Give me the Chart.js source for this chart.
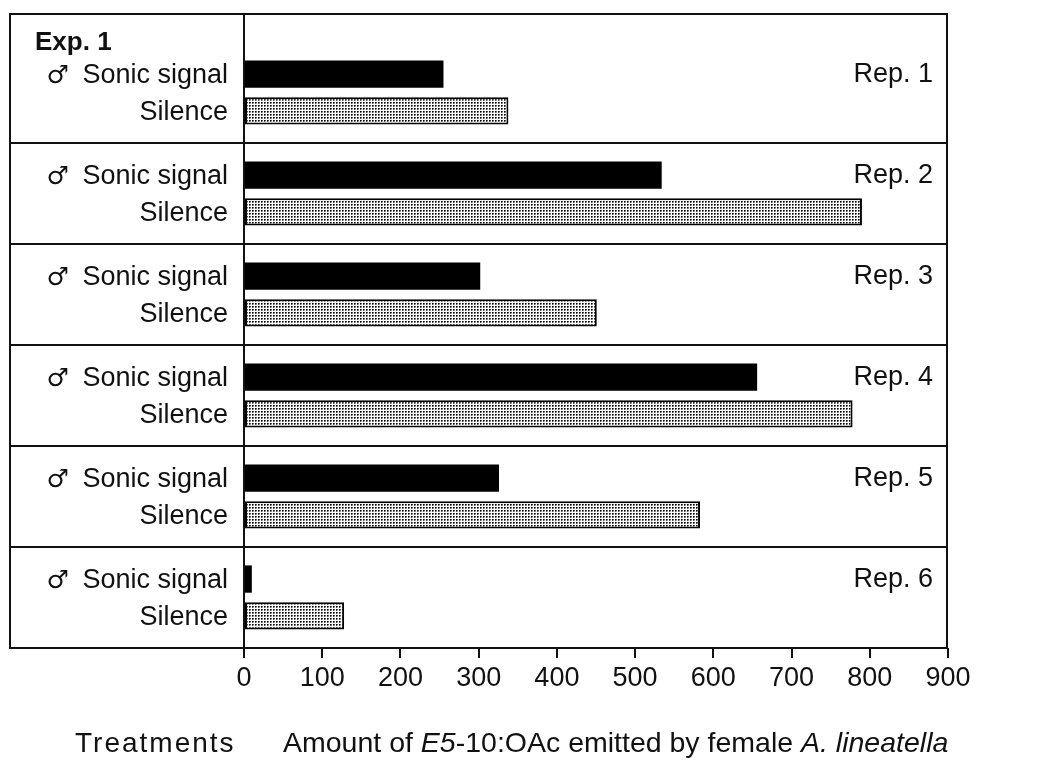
<!DOCTYPE html>
<html>
<head>
<meta charset="utf-8">
<script src="https://cdn.jsdelivr.net/npm/chart.js@4/dist/chart.umd.min.js"></script>
<style>
    body { margin: 0; background: #fff; }
    #wrap { width: 1037px; height: 760px; }
</style>
</head>
<body>
<div id="wrap"><canvas id="emissionChart" width="1037" height="760"></canvas></div>
<script>
const REPS = ['Rep. 1', 'Rep. 2', 'Rep. 3', 'Rep. 4', 'Rep. 5', 'Rep. 6']
const TREATMENTS = ['Sonic signal', 'Silence']
const MALE = '\u2642'
const SONIC = [255, 534, 302, 656, 326, 10]
const SILENCE = [338, 790, 451, 778, 583, 128]
const X_TICKS = [0, 100, 200, 300, 400, 500, 600, 700, 800, 900]
const EXP_LABEL = 'Exp. 1'
const AXIS_LEFT = 'Treatments'
const AXIS_TITLE = [
    { text: 'Amount of ', italic: false },
    { text: 'E5', italic: true },
    { text: '-10:OAc emitted by female ', italic: false },
    { text: 'A. lineatella', italic: true }
]

const FONT = "'Liberation Sans', 'DejaVu Sans', sans-serif"
const INK = '#111'

// stipple fill for the "Silence" bars
function stipple() {
    const c = document.createElement('canvas')
    c.width = 3
    c.height = 3
    const g = c.getContext('2d')
    g.fillStyle = '#fff'
    g.fillRect(0, 0, 3, 3)
    g.fillStyle = '#000'
    g.fillRect(0, 0, 1, 1)
    g.fillStyle = '#555'
    g.fillRect(1, 0, 1, 1)
    g.fillRect(0, 1, 1, 1)
    g.fillStyle = '#aaa'
    g.fillRect(1, 1, 1, 1)
    return g.createPattern(c, 'repeat')
}

const framePlugin = {
    id: 'frame',
    afterDraw(chart) {
        const ctx = chart.ctx
        const area = chart.chartArea
        const band = (area.bottom - area.top) / REPS.length
        const left = 10
        const right = area.right - 1
        const top = area.top - 28

        ctx.save()
        ctx.strokeStyle = INK
        ctx.lineWidth = 2
        ctx.beginPath()
        ctx.rect(left, top, right - left, area.bottom - top)
        for (let i = 1; i < REPS.length; i++) {
            const y = Math.round(area.top + i * band)
            ctx.moveTo(left, y)
            ctx.lineTo(right, y)
        }
        ctx.moveTo(area.left, top)
        ctx.lineTo(area.left, area.bottom + 10)
        ctx.stroke()

        // experiment heading
        ctx.fillStyle = INK
        ctx.font = 'bold 26px ' + FONT
        ctx.textAlign = 'left'
        ctx.textBaseline = 'alphabetic'
        ctx.fillText(EXP_LABEL, 35, area.top + 8)

        const sonic = chart.getDatasetMeta(0).data
        const silence = chart.getDatasetMeta(1).data

        // treatment labels left of the axis
        ctx.textAlign = 'right'
        sonic.forEach((bar, i) => {
            ctx.font = '27px ' + FONT
            ctx.fillText(TREATMENTS[0], 228, bar.y + 9)
            const w = ctx.measureText(TREATMENTS[0] + ' ').width
            ctx.font = '25px DejaVu Sans'
            ctx.fillText(MALE, 228 - w - 6, bar.y + 9)
            ctx.font = '27px ' + FONT
            ctx.fillText(TREATMENTS[1], 228, silence[i].y + 9)
        })

        // replicate labels, next to the sonic bar of each group
        ctx.font = '27px ' + FONT
        sonic.forEach((bar, i) => {
            ctx.fillText(REPS[i], 933, bar.y + 8)
        })

        // axis captions
        const base = 752
        ctx.textAlign = 'left'
        ctx.font = '28px ' + FONT
        ctx.letterSpacing = '2px'
        ctx.fillText(AXIS_LEFT, 75, base)
        ctx.letterSpacing = '0px'
        let x = 283
        AXIS_TITLE.forEach((part) => {
            ctx.font = (part.italic ? 'italic ' : '') + '28.5px ' + FONT
            ctx.fillText(part.text, x, base)
            x += ctx.measureText(part.text).width
        })
        ctx.restore()
    }
}

window.onload = function () {
    const canvas = document.getElementById('emissionChart')

    const data = {
        labels: REPS,
        datasets: [
            {
                label: TREATMENTS[0],
                data: SONIC,
                backgroundColor: '#000',
                borderWidth: 0
            },
            {
                label: TREATMENTS[1],
                data: SILENCE,
                backgroundColor: stipple(),
                borderColor: '#000',
                borderWidth: 2,
                borderSkipped: false
            }
        ]
    }

    new Chart(canvas, {
        type: 'bar',
        data: data,
        plugins: [framePlugin],
        options: {
            indexAxis: 'y',
            responsive: false,
            animation: false,
            categoryPercentage: 0.73,
            barPercentage: 0.74,
            layout: {
                padding: { left: 10, top: 42, right: 89, bottom: 0 }
            },
            plugins: {
                legend: { display: false },
                tooltip: { enabled: false }
            },
            scales: {
                x: {
                    min: 0,
                    max: 900,
                    afterBuildTicks: (scale) => {
                        scale.ticks = X_TICKS.map((v) => ({ value: v }))
                    },
                    afterFit: (scale) => {
                        scale.height = 112
                    },
                    grid: {
                        display: true,
                        drawOnChartArea: false,
                        drawTicks: true,
                        tickLength: 10,
                        color: INK,
                        lineWidth: 2
                    },
                    border: { display: false },
                    ticks: {
                        color: INK,
                        padding: 4,
                        maxRotation: 0,
                        font: { family: FONT, size: 27 }
                    }
                },
                y: {
                    afterFit: (scale) => {
                        scale.width = 234
                        scale.paddingTop = 0
                        scale.paddingBottom = 0
                    },
                    grid: { display: false },
                    border: { display: false },
                    ticks: { display: false }
                }
            }
        }
    })
}
</script>
</body>
</html>
